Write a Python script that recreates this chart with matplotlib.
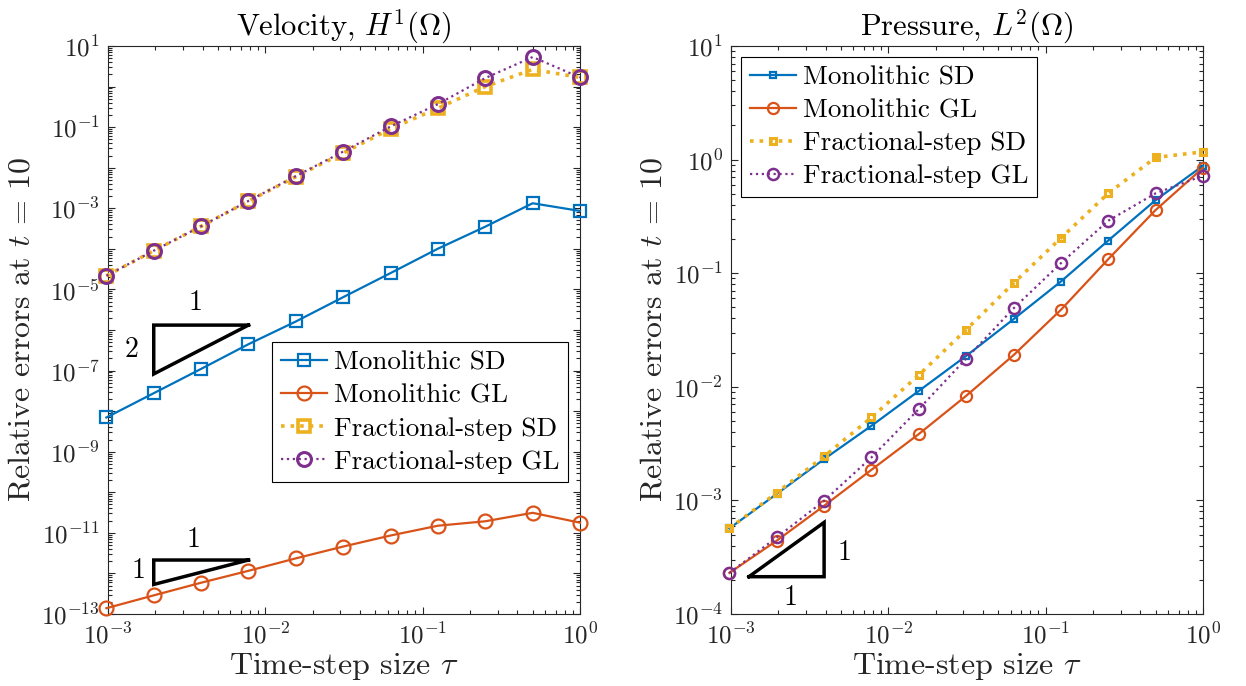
import numpy as np
import matplotlib
matplotlib.use("Agg")
import matplotlib.pyplot as plt
from matplotlib.ticker import LogLocator, FixedLocator, NullFormatter

plt.rcParams['font.family'] = 'serif'
plt.rcParams['font.serif'] = ['cmr10']
plt.rcParams['mathtext.fontset'] = 'cm'
plt.rcParams['axes.formatter.use_mathtext'] = True
plt.rcParams['axes.unicode_minus'] = True

# ---------------- data ----------------
tau = [1/1024, 1/512, 1/256, 1/128, 1/64, 1/32, 1/16, 1/8, 1/4, 1/2, 1.0]

vel_mono_sd = [6.98e-9, 2.77e-8, 1.1e-7, 4.47e-7, 1.62e-6, 6.45e-6, 2.53e-5, 1.01e-4, 3.52e-4, 1.33e-3, 8.6e-4]
vel_mono_gl = [1.39e-13, 2.88e-13, 5.9e-13, 1.16e-12, 2.35e-12, 4.6e-12, 8.6e-12, 1.5e-11, 1.93e-11, 3.12e-11, 1.78e-11]
vel_frac_sd = [2.17e-5, 9.0e-5, 3.6e-4, 1.5e-3, 6.0e-3, 2.3e-2, 0.091, 0.294, 1.0, 2.65, 1.68]
vel_frac_gl = [2.17e-5, 9.0e-5, 3.6e-4, 1.52e-3, 6.2e-3, 2.5e-2, 0.104, 0.37, 1.62, 5.35, 1.68]

pre_mono_sd = [5.67e-4, 1.14e-3, 2.31e-3, 4.54e-3, 9.2e-3, 0.0187, 0.0394, 0.0845, 0.194, 0.44, 0.883]
pre_mono_gl = [2.3e-4, 4.42e-4, 8.97e-4, 1.86e-3, 3.84e-3, 8.33e-3, 0.019, 0.0476, 0.133, 0.36, 0.847]
pre_frac_sd = [5.67e-4, 1.17e-3, 2.44e-3, 5.37e-3, 0.0127, 0.0318, 0.0817, 0.204, 0.505, 1.045, 1.17]
pre_frac_gl = [2.3e-4, 4.72e-4, 9.93e-4, 2.39e-3, 6.37e-3, 0.0177, 0.049, 0.1225, 0.29, 0.505, 0.721]

labels = ['Monolithic SD', 'Monolithic GL', 'Fractional-step SD', 'Fractional-step GL']
titles = [r'Velocity, $H^1(\Omega)$', r'Pressure, $L^2(\Omega)$']
xlabel = r'Time-step size $\tau$'
ylabel = r'Relative errors at $t\,=\,10$'

# slope triangles: (x_left, x_right, y_ref, slope)
tri_vel_2 = (1/512, 1/128, 1.32e-6, 2)
tri_vel_1 = (1/512, 1/128, 2.14e-12, 1)
tri_pre_1 = (1.3e-3, 1/256, 2.13e-4, 1)

# ---------------- style ----------------
C_BLUE = '#0072BD'
C_ORANGE = '#D95319'
C_YELLOW = '#EDB120'
C_PURPLE = '#7E2F8E'
AX_COLOR = '#262626'

FS_LABEL = 23
FS_TITLE = 22
FS_TICK = 18
FS_LEG = 19.5
FS_TRI = 20

fig = plt.figure(figsize=(12.46, 6.86), dpi=100)
ax1 = fig.add_axes([108/1246, 72/686, 472/1246, 568/686])
ax2 = fig.add_axes([731/1246, 72/686, 472/1246, 568/686])


def style_axes(ax, ymin_exp, ymax_exp, label_step):
    ax.set_xscale('log')
    ax.set_yscale('log')
    ax.set_xlim(1e-3, 1)
    ax.set_ylim(10.0**ymin_exp, 10.0**ymax_exp)
    yt = [10.0**e for e in range(ymin_exp, ymax_exp + 1)]
    ax.yaxis.set_major_locator(FixedLocator(yt))
    ylabs = []
    for e in range(ymin_exp, ymax_exp + 1):
        if (e - ymax_exp) % label_step == 0:
            ylabs.append(r'$10^{%d}$' % e)
        else:
            ylabs.append('')
    ax.set_yticklabels(ylabs)
    ax.yaxis.set_minor_locator(LogLocator(base=10, subs=np.arange(2, 10), numticks=100))
    ax.yaxis.set_minor_formatter(NullFormatter())
    xt = [1e-3, 1e-2, 1e-1, 1]
    ax.xaxis.set_major_locator(FixedLocator(xt))
    ax.set_xticklabels([r'$10^{-3}$', r'$10^{-2}$', r'$10^{-1}$', r'$10^{0}$'])
    ax.xaxis.set_minor_locator(LogLocator(base=10, subs=np.arange(2, 10), numticks=100))
    ax.xaxis.set_minor_formatter(NullFormatter())
    ax.tick_params(which='both', direction='in', top=True, right=True, color=AX_COLOR,
                   labelcolor=AX_COLOR, labelsize=FS_TICK, width=0.8)
    ax.tick_params(which='major', length=5, pad=6)
    ax.tick_params(which='minor', length=3)
    for s in ax.spines.values():
        s.set_color(AX_COLOR)
        s.set_linewidth(0.8)
    ax.set_xlabel(xlabel, fontsize=FS_LABEL, color=AX_COLOR, labelpad=2)
    ax.set_ylabel(ylabel, fontsize=FS_LABEL, color=AX_COLOR, labelpad=4)


def triangle(ax, spec, vertical_on_left=True):
    xl, xr, yref, s = spec
    if vertical_on_left:
        ybot = yref * (xl / xr) ** s
        xs = [xr, xl, xl, xr]
        ys = [yref, yref, ybot, yref]
    else:
        ytop = yref * (xr / xl) ** s
        xs = [xl, xr, xr, xl]
        ys = [yref, yref, ytop, yref]
    ax.plot(xs, ys, color='k', lw=2.5, solid_joinstyle='miter', clip_on=False, zorder=5)


def make_legend(ax, loc, anchor):
    leg = ax.legend(loc=loc, bbox_to_anchor=anchor, fontsize=FS_LEG,
                    fancybox=False, framealpha=1, edgecolor='k', borderaxespad=0,
                    handlelength=1.7, handletextpad=0.25, labelspacing=0.33, borderpad=0.33)
    leg.get_frame().set_linewidth(0.8)
    return leg


# ---------------- left: velocity ----------------
ax1.plot(tau, vel_mono_sd, '-', color=C_BLUE, lw=1.6, marker='s', ms=8, mfc='none', mew=1.6,
         label=labels[0], clip_on=False, zorder=3)
ax1.plot(tau, vel_mono_gl, '-', color=C_ORANGE, lw=1.6, marker='o', ms=10, mfc='none', mew=1.6,
         label=labels[1], clip_on=False, zorder=3)
ax1.plot(tau, vel_frac_sd, ':', color=C_YELLOW, lw=2.6, marker='s', ms=8, mfc='none', mew=2.6,
         label=labels[2], clip_on=False, zorder=3)
ax1.plot(tau, vel_frac_gl, ':', color=C_PURPLE, lw=1.6, marker='o', ms=10, mfc='none', mew=2.2,
         label=labels[3], clip_on=False, zorder=4)
style_axes(ax1, -13, 1, 2)
ax1.set_title(titles[0], fontsize=FS_TITLE, color='k', pad=7)

triangle(ax1, tri_vel_2, True)
triangle(ax1, tri_vel_1, True)
ax1.text(3.6e-3, 4.6e-6, '1', fontsize=FS_TRI, ha='center', va='center')
ax1.text(1.42e-3, 3.2e-7, '2', fontsize=FS_TRI, ha='center', va='center')
ax1.text(3.5e-3, 6.6e-12, '1', fontsize=FS_TRI, ha='center', va='center')
ax1.text(1.57e-3, 1.15e-12, '1', fontsize=FS_TRI, ha='center', va='center')

make_legend(ax1, 'upper right', (0.975, 0.479))

# ---------------- right: pressure ----------------
ax2.plot(tau, pre_mono_sd, '-', color=C_BLUE, lw=1.6, marker='s', ms=5, mfc='none', mew=1.6,
         label=labels[0], clip_on=False, zorder=3)
ax2.plot(tau, pre_mono_gl, '-', color=C_ORANGE, lw=1.6, marker='o', ms=8, mfc='none', mew=1.6,
         label=labels[1], clip_on=False, zorder=3)
ax2.plot(tau, pre_frac_sd, ':', color=C_YELLOW, lw=2.6, marker='s', ms=5, mfc='none', mew=2.2,
         label=labels[2], clip_on=False, zorder=3)
ax2.plot(tau, pre_frac_gl, ':', color=C_PURPLE, lw=1.6, marker='o', ms=8, mfc='none', mew=1.8,
         label=labels[3], clip_on=False, zorder=4)
style_axes(ax2, -4, 1, 1)
ax2.set_title(titles[1], fontsize=FS_TITLE, color='k', pad=7)

triangle(ax2, tri_pre_1, False)
ax2.text(5.3e-3, 3.42e-4, '1', fontsize=FS_TRI, ha='center', va='center')
ax2.text(2.4e-3, 1.4e-4, '1', fontsize=FS_TRI, ha='center', va='center')

make_legend(ax2, 'upper left', (0.021, 0.981))

fig.savefig('out.png', dpi=100)
